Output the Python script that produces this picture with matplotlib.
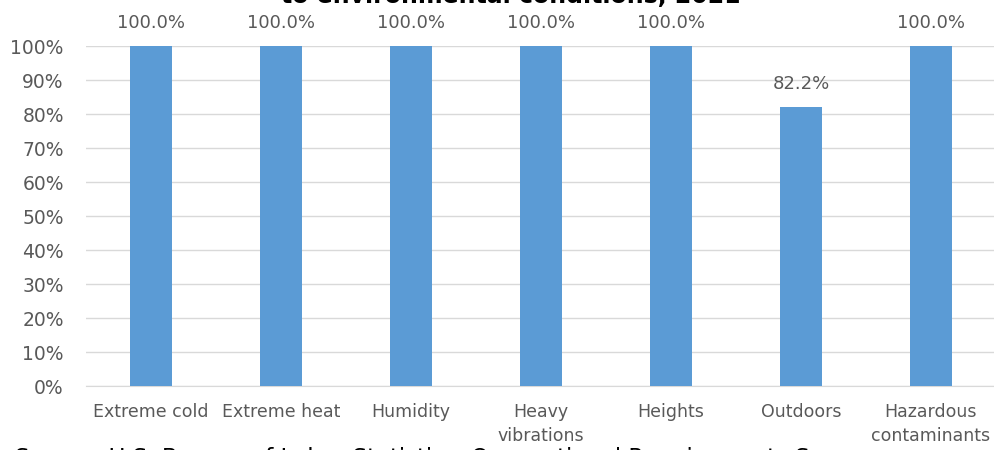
import matplotlib.pyplot as plt

categories = ["Extreme cold", "Extreme heat", "Humidity", "Heavy\nvibrations",
              "Heights", "Outdoors", "Hazardous\ncontaminants"]
values = [100.0, 100.0, 100.0, 100.0, 100.0, 82.2, 100.0]
y_ticks = [0, 10, 20, 30, 40, 50, 60, 70, 80, 90, 100]

TITLE = "to environmental conditions, 2021"
SOURCE = "Source: U.S. Bureau of Labor Statistics, Occupational Requirements Survey"

BAR_COLOR = "#5B9BD5"
TEXT_COLOR = "#595959"
GRID_COLOR = "#D9D9D9"

plt.rcParams["font.family"] = ["DejaVu Sans"]

fig = plt.figure(figsize=(9.95, 4.5), dpi=100)
ax = fig.add_axes([86 / 995, 1 - 386 / 450, 910 / 995, 340 / 450])

x = list(range(len(categories)))
ax.bar(x, values, width=0.32, color=BAR_COLOR, zorder=3)

for xi, v in zip(x, values):
    ax.annotate(f"{v:.1f}%", (xi, v), xytext=(0, 10), textcoords="offset points",
                ha="center", va="bottom", fontsize=13, color=TEXT_COLOR)

ax.set_xlim(-0.5, len(categories) - 0.5)
ax.set_ylim(0, 100)
ax.set_yticks(y_ticks)
ax.set_yticklabels([f"{t}%" for t in y_ticks], fontsize=13.5)
ax.set_xticks(x)
ax.set_xticklabels(categories, fontsize=12.5, linespacing=1.45)
ax.tick_params(axis="both", length=0, labelcolor=TEXT_COLOR)
ax.tick_params(axis="x", pad=12)
ax.tick_params(axis="y", pad=16)
ax.grid(axis="y", color=GRID_COLOR, linewidth=1, zorder=0)
for s in ["top", "right", "left"]:
    ax.spines[s].set_visible(False)
ax.spines["bottom"].set_color(GRID_COLOR)
ax.spines["bottom"].set_zorder(0)

# title and source are partly outside the picture, as in the reference crop
fig.text(511 / 995, 1 - 3 / 450, TITLE, ha="center", va="baseline",
         fontsize=17, fontweight="bold", color="black")
fig.text(15 / 995, 1 - 465 / 450, SOURCE, ha="left", va="baseline",
         fontsize=16.5, color="black")

fig.savefig("out.png", dpi=100)
